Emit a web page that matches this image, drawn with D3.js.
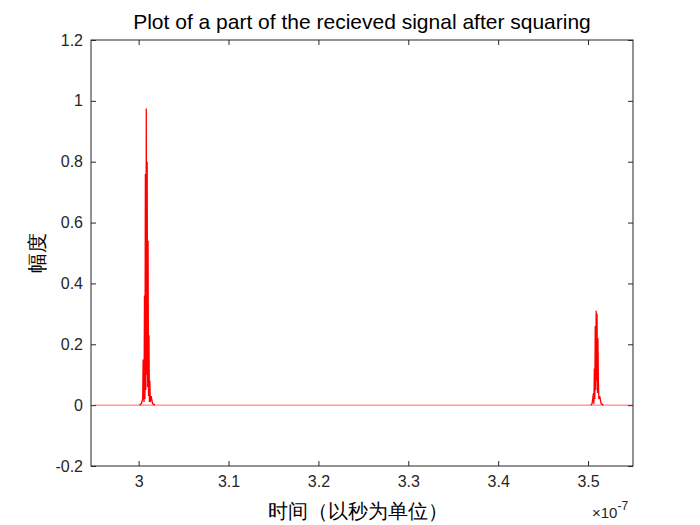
<!DOCTYPE html><html><head><meta charset="utf-8"><script src="https://cdn.jsdelivr.net/npm/d3@7"></script>
<style>body{margin:0;background:#fff}text{font-family:Arial,"Liberation Sans",sans-serif}</style></head><body><svg id="c" width="700" height="525"></svg><script>
const xTicks=[3,3.1,3.2,3.3,3.4,3.5];
const yTicks=[-0.2,0,0.2,0.4,0.6,0.8,1,1.2];
const baseT=[2.95,3.55];
const baseV=[0,0];
const burst1T=[3.001,3.003,3.0045,3.005,3.006,3.0065,3.007,3.0075,3.008,3.0085,3.009,3.0095,3.010,3.0105,3.011,3.0115,3.012,3.0125,3.013,3.014,3.0155,3.018];
const burst1V=[0,0.005,0.02,0.15,0.01,0.36,0.02,0.76,0.05,0.975,0.1,0.80,0.06,0.54,0.03,0.23,0.01,0.08,0.01,0.03,0.005,0];
const burst2T=[3.503,3.5045,3.506,3.5065,3.507,3.5075,3.508,3.5085,3.509,3.5095,3.510,3.5105,3.511,3.5115,3.512,3.513,3.5145,3.517];
const burst2V=[0,0.005,0.04,0.005,0.12,0.02,0.26,0.05,0.31,0.08,0.30,0.04,0.22,0.08,0.02,0.03,0.005,0];
const svg=d3.select("#c");
const L=91,R=633,T=40,B=466;
const x=d3.scaleLinear().domain([2.947,3.55]).range([L,R]);
const y=d3.scaleLinear().domain([-0.2,1.2]).range([B,T]);
svg.append("rect").attr("x",L).attr("y",T).attr("width",R-L).attr("height",B-T).attr("fill","none").attr("stroke","#262626");
const fmt=d=>String(+d.toFixed(1));
svg.append("g").attr("transform",`translate(0,${B})`).call(d3.axisBottom(x).tickValues(xTicks).tickFormat(fmt).tickSize(-5).tickPadding(10));
svg.append("g").attr("transform",`translate(${L},0)`).call(d3.axisLeft(y).tickValues(yTicks).tickFormat(fmt).tickSize(-5).tickPadding(8));
svg.append("g").attr("transform",`translate(0,${T})`).call(d3.axisTop(x).tickValues(xTicks).tickFormat("").tickSize(-5));
svg.append("g").attr("transform",`translate(${R},0)`).call(d3.axisRight(y).tickValues(yTicks).tickFormat("").tickSize(-5));
svg.selectAll(".domain").remove();
svg.selectAll(".tick line").attr("stroke","#262626");
svg.selectAll(".tick text").attr("font-size",16).attr("fill","#262626").attr("font-family","Arial,'Liberation Sans',sans-serif");
const ln=d3.line().x(d=>x(d[0])).y(d=>y(d[1]));
svg.append("path").datum(baseT.map((t,i)=>[t,baseV[i]])).attr("d",ln).attr("fill","none").attr("stroke","#ff0000").attr("stroke-width",0.6);
[[burst1T,burst1V],[burst2T,burst2V]].forEach(([bt,bv])=>
 svg.append("path").datum(bt.map((t,i)=>[t,bv[i]])).attr("d",ln).attr("fill","none").attr("stroke","#ff0000").attr("stroke-width",1.3));
svg.append("text").attr("x",362).attr("y",29).attr("text-anchor","middle").attr("font-size",21).text("Plot of a part of the recieved signal after squaring");
svg.append("text").attr("transform","translate(44,253) rotate(-90)").attr("text-anchor","middle").attr("font-size",20).attr("font-family","'Noto Sans CJK SC',sans-serif").text("幅度");
svg.append("text").attr("x",358).attr("y",518).attr("text-anchor","middle").attr("font-size",20).attr("font-family","'Noto Sans CJK SC',sans-serif").text("时间（以秒为单位）");
const e=svg.append("text").attr("x",592).attr("y",518).attr("font-size",15).attr("fill","#262626");
e.append("tspan").text("×10");e.append("tspan").attr("dy",-8).attr("font-size",12).text("-7");
</script></body></html>
